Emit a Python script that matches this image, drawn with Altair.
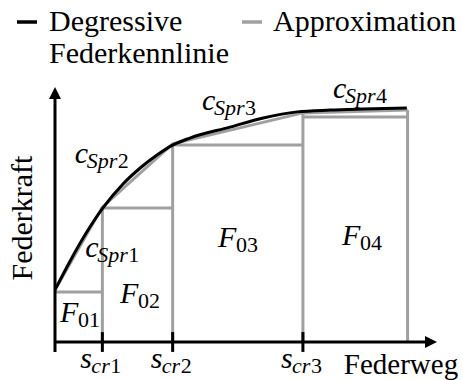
import altair as alt
import pandas as pd

# ---------------------------------------------------------------------------
# Data (spring travel s in arbitrary units, spring force F in arbitrary units)
# ---------------------------------------------------------------------------
# breakpoints: 0, s_cr1, s_cr2, s_cr3, end of travel
s_points = [0.0, 1.24, 3.08, 6.49, 9.23]
# piecewise-linear approximation of the force at the breakpoints
approx_force = [2.05, 5.31, 7.80, 9.02, 9.13]
# heights of the constant-force blocks F01..F04
block_force = [1.97, 5.28, 7.76, 8.86]
block_index = ["01", "02", "03", "04"]
block_label_x = [0.13, 1.70, 4.27, 7.51]
block_label_y = [0.79, 1.54, 3.74, 3.82]

# degressive spring characteristic
curve_s = [0.0, 0.40, 0.80, 1.24, 1.78, 2.23, 2.67, 3.09, 3.53,
           4.58, 5.45, 6.34, 7.20, 8.06, 9.21]
curve_force = [2.05, 3.20, 4.25, 5.25, 6.22, 6.85, 7.36, 7.76, 8.03,
               8.46, 8.82, 9.06, 9.13, 9.17, 9.21]

# stiffness labels c_Spr1..c_Spr4
stiff_index = ["1", "2", "3", "4"]
stiff_label_x = [0.79, 0.52, 3.85, 7.28]
stiff_label_y = [3.35, 7.05, 9.13, 9.61]

# critical travel labels s_cr1..s_cr3
crit_index = ["1", "2", "3"]

legend_labels = ["Degressive\nFederkennlinie", "Approximation"]

# axis geometry (data units)
x_tip = 10.0
y_tip = 10.04
tick_half = 0.39

# ---------------------------------------------------------------------------
BLACK = "#000000"
GRAY = "#a0a0a0"
TEXT_FONT = "Liberation Serif, 'Times New Roman', DejaVu Serif, serif"
MAIN_SIZE = 30
SUB_SIZE = 22

xs = alt.Scale(domain=[-55 / 38.2, 408 / 38.2], nice=False, zero=False)
ys = alt.Scale(domain=[-38 / 25.4, 342 / 25.4], nice=False, zero=False)


def X(field, **kw):
    return alt.X(field, type="quantitative", scale=xs, axis=None, **kw)


def Y(field, **kw):
    return alt.Y(field, type="quantitative", scale=ys, axis=None, **kw)


# approximation: vertical edges, block tops and the polygonal line
verticals = pd.DataFrame({"s": s_points[1:], "f": approx_force[1:]})
verticals["zero"] = 0.0
gray_vert = alt.Chart(verticals).mark_rule(color=GRAY, strokeWidth=3).encode(
    x=X("s"), y=Y("zero"), y2="f")

blocks = pd.DataFrame({"s0": s_points[:-1], "s1": s_points[1:], "f": block_force})
gray_tops = alt.Chart(blocks).mark_rule(color=GRAY, strokeWidth=3).encode(
    x=X("s0"), x2="s1", y=Y("f"))

approx = pd.DataFrame({"s": s_points, "f": approx_force})
gray_line = alt.Chart(approx).mark_line(color=GRAY, strokeWidth=3).encode(
    x=X("s"), y=Y("f"))

curve = pd.DataFrame({"s": curve_s, "f": curve_force})
black_line = alt.Chart(curve).mark_line(
    color=BLACK, strokeWidth=3, interpolate="monotone").encode(
    x=X("s"), y=Y("f"))

# axes with arrow heads
yaxis = alt.Chart(pd.DataFrame({"x": [0.0], "y0": [-tick_half], "y1": [y_tip - 0.3]})).mark_rule(
    color=BLACK, strokeWidth=3).encode(x=X("x"), y=Y("y0"), y2="y1")
xaxis = alt.Chart(pd.DataFrame({"x0": [0.0], "x1": [x_tip - 0.2], "y": [0.0]})).mark_rule(
    color=BLACK, strokeWidth=3).encode(x=X("x0"), x2="x1", y=Y("y"))
yhead = alt.Chart(pd.DataFrame({"x": [0.0], "y": [y_tip]})).mark_point(
    shape="M0,0L1,2L-1,2Z", size=144, filled=True, color=BLACK, opacity=1,
    strokeWidth=0).encode(x=X("x"), y=Y("y"))
xhead = alt.Chart(pd.DataFrame({"x": [x_tip], "y": [0.0]})).mark_point(
    shape="M0,0L-2,-1L-2,1Z", size=144, filled=True, color=BLACK, opacity=1,
    strokeWidth=0).encode(x=X("x"), y=Y("y"))

ticks = pd.DataFrame({"s": s_points[1:4]})
ticks["lo"] = -tick_half
ticks["hi"] = tick_half
tick_marks = alt.Chart(ticks).mark_rule(color=BLACK, strokeWidth=3).encode(
    x=X("s"), y=Y("lo"), y2="hi")


# symbol with italic main letter, italic subscript letters and upright digits
def math_label(df, main, sub, main_dx, sub_w, start_dx=0):
    base = alt.Chart(df).encode(x=X("x"), y=Y("y"))
    layers = [
        base.mark_text(text=main, font=TEXT_FONT, fontStyle="italic",
                       fontSize=MAIN_SIZE, align="left", baseline="alphabetic",
                       dx=start_dx, color=BLACK),
    ]
    if sub:
        layers.append(
            base.mark_text(text=sub, font=TEXT_FONT, fontStyle="italic",
                           fontSize=SUB_SIZE, align="left", baseline="alphabetic",
                           dx=start_dx + main_dx, dy=5, color=BLACK))
    layers.append(
        base.mark_text(font=TEXT_FONT, fontSize=SUB_SIZE, align="left",
                       baseline="alphabetic", dx=start_dx + main_dx + sub_w,
                       dy=5, color=BLACK).encode(text="idx:N"))
    return layers


f_df = pd.DataFrame({"x": block_label_x, "y": block_label_y, "idx": block_index})
c_df = pd.DataFrame({"x": stiff_label_x, "y": stiff_label_y, "idx": stiff_index})
s_df = pd.DataFrame({"x": s_points[1:4], "y": [-1.02] * 3, "idx": crit_index})

labels = []
labels += math_label(f_df, "F", "", 18, 0)
labels += math_label(c_df, "c", "Spr", 12, 31)
labels += math_label(s_df, "s", "cr", 11, 19, start_dx=-22)

# axis titles
ytitle = alt.Chart(pd.DataFrame({"x": [-0.60], "y": [4.88], "t": ["Federkraft"]})).mark_text(
    font=TEXT_FONT, fontSize=MAIN_SIZE, angle=270, align="center",
    baseline="alphabetic", color=BLACK).encode(x=X("x"), y=Y("y"), text="t:N")
xtitle = alt.Chart(pd.DataFrame({"x": [7.56], "y": [-1.26], "t": ["Federweg"]})).mark_text(
    font=TEXT_FONT, fontSize=29, align="left",
    baseline="alphabetic", color=BLACK).encode(x=X("x"), y=Y("y"), text="t:N")

# legend
leg_df = pd.DataFrame({"label": legend_labels})
leg = []
for i, (col, sx, tx) in enumerate([(BLACK, 17, 49), (GRAY, 242, 273)]):
    one = leg_df.iloc[[i]]
    leg.append(alt.Chart(one).mark_rule(color=col, strokeWidth=3.5).encode(
        x=alt.value(sx), x2=alt.value(sx + 20), y=alt.value(22)))
    leg.append(alt.Chart(one).mark_text(
        font=TEXT_FONT, fontSize=MAIN_SIZE, align="left", baseline="alphabetic",
        lineBreak="\n", lineHeight=32, color=BLACK).encode(
        x=alt.value(tx), y=alt.value(31), text="label:N"))

chart = alt.layer(
    gray_vert, gray_tops, gray_line, black_line,
    yaxis, xaxis, yhead, xhead, tick_marks,
    *labels, ytitle, xtitle, *leg,
).properties(
    width=463, height=380, padding=0,
    autosize=alt.AutoSizeParams(type="none"),
    background="white",
).configure_view(stroke=None)

chart.save("out.html", embed_options={"renderer": "svg", "actions": False})
